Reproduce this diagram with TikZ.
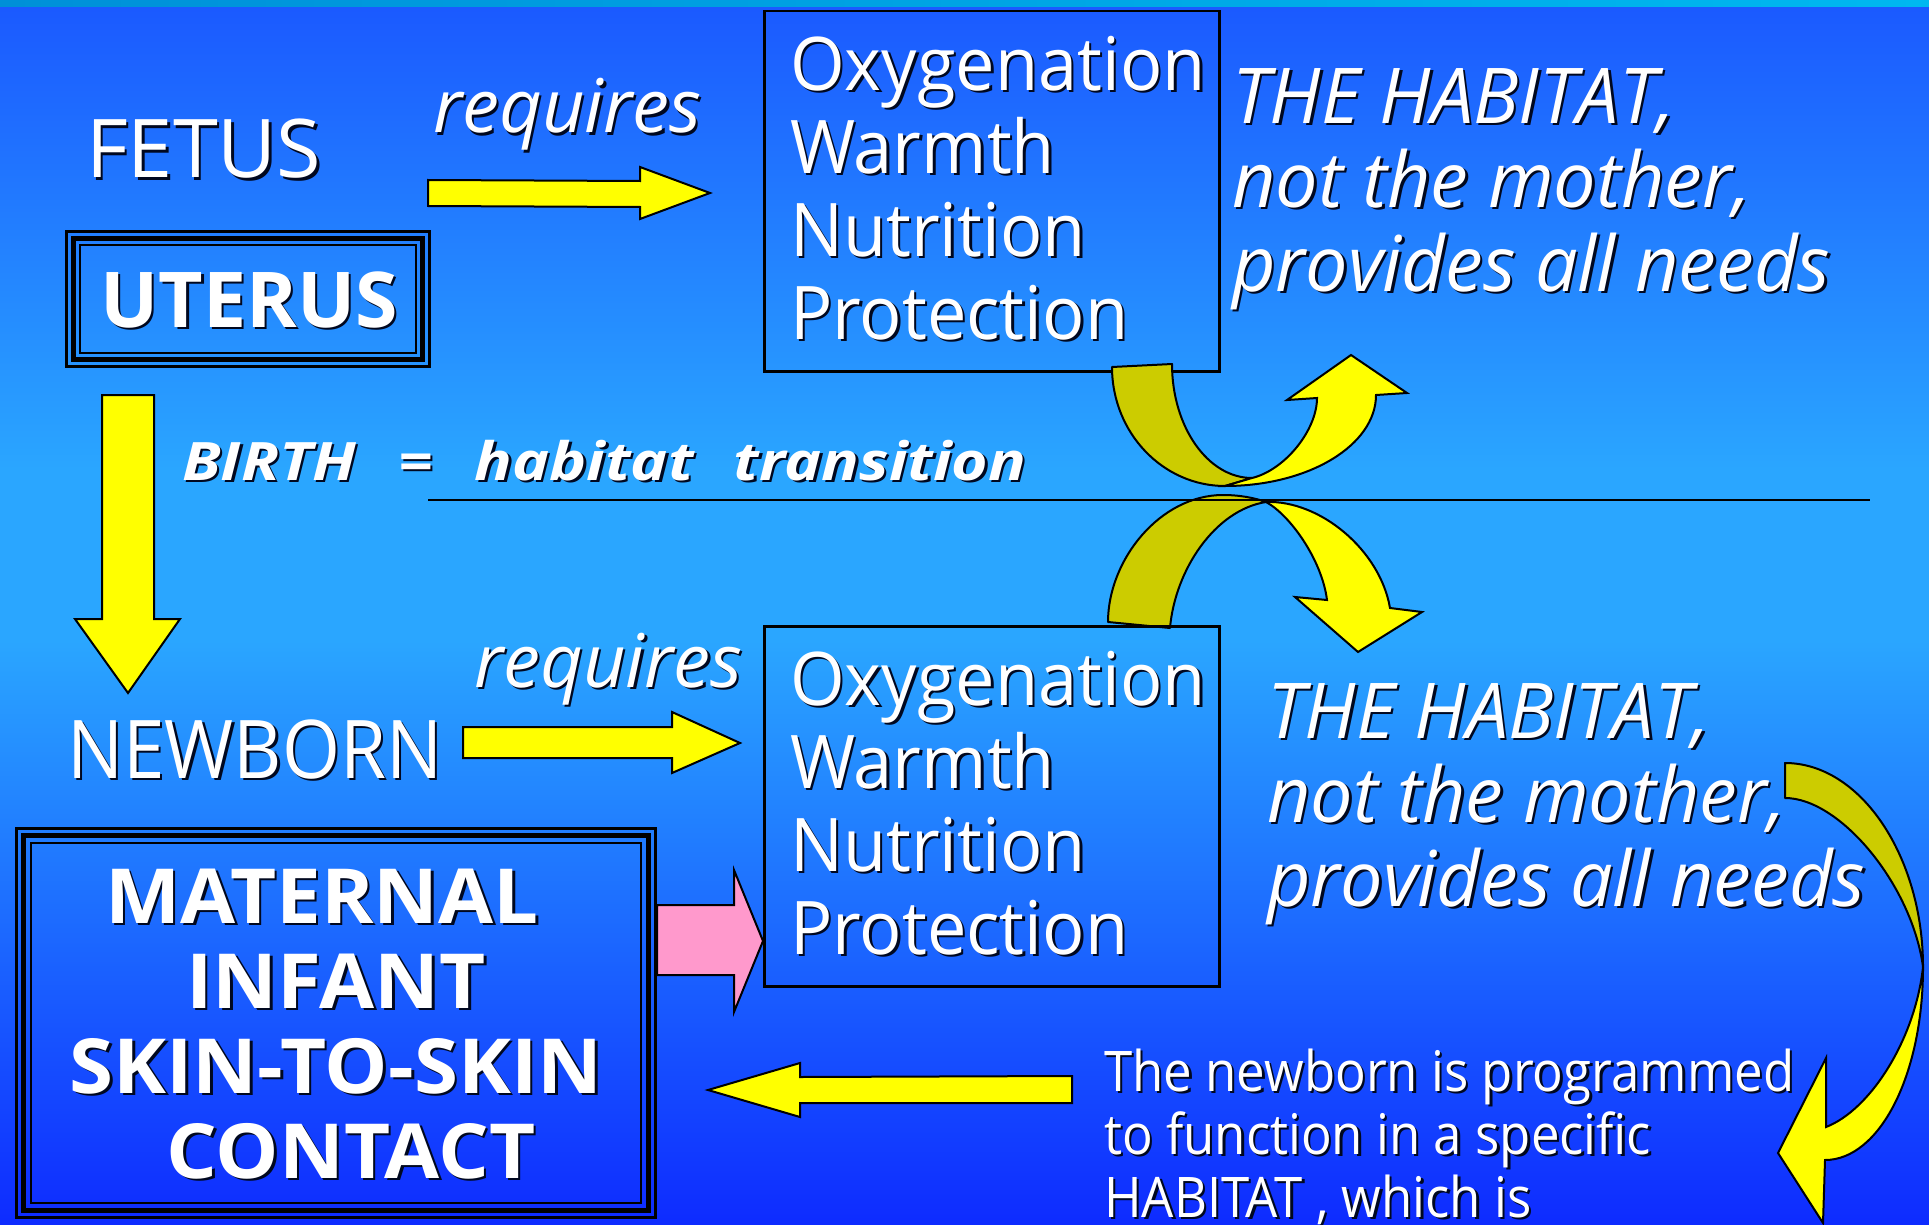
\documentclass[tikz,border=0pt]{standalone}
\usepackage{fontspec}
\setmainfont{Open Sans}
\newfontfamily\fNew[FakeStretch=0.92]{Open Sans}
\newfontfamily\fBox[FakeStretch=0.95]{Open Sans}
\newfontfamily\fBirth[FakeStretch=1.18]{Open Sans}
\newfontfamily\fProg[FakeStretch=0.91]{Open Sans}
\newfontfamily\fHab[FakeStretch=0.98]{Open Sans}
\newfontfamily\fSkin[FakeStretch=1.05]{Open Sans}
\definecolor{bgtop}{HTML}{1B5AFF}
\definecolor{bgmid}{HTML}{2AA6FF}
\definecolor{bgbot}{HTML}{0E2BFF}
\definecolor{stripl}{HTML}{0090D8}
\definecolor{stripr}{HTML}{00B8F0}
\definecolor{ayellow}{HTML}{FFFF00}
\definecolor{aolive}{HTML}{CCCC00}
\definecolor{apink}{HTML}{FF99CC}
\definecolor{shadowc}{HTML}{000820}
\newcommand\shd[1]{\leavevmode\rlap{\kern2.5pt\lower2.5pt\hbox{\color{shadowc}#1}}#1}
\tikzset{
  txt/.style={text=white, inner sep=0pt, align=left, anchor=base west},
  ctxt/.style={text=white, inner sep=0pt, align=center, anchor=base},
  yarrow/.style={fill=ayellow, draw=black, line width=2pt, line join=miter},
  parrow/.style={fill=apink, draw=black, line width=2pt, line join=miter},
  oband/.style={fill=aolive, draw=black, line width=2pt, line join=round},
  needbox/.style={draw=black, line width=2.5pt, inner sep=0pt, anchor=north west},
}
\begin{document}
\begin{tikzpicture}[x=1pt,y=-1pt]
\useasboundingbox (0,0) rectangle (1929,1225);
% background
\shade[left color=stripl, right color=stripr] (0,0) rectangle (1929,8);
\shade[top color=bgtop, bottom color=bgmid] (0,8) rectangle (1929,470);
\fill[bgmid] (0,469) rectangle (1929,641);
\shade[top color=bgmid, bottom color=bgbot] (0,640) rectangle (1929,1225);

% FETUS / requires
\node[txt, font=\fontsize{81}{90}\selectfont] (fetus) at (86,178) {\shd{FETUS}};
\node[txt, font=\fontsize{74}{83}\selectfont\itshape] (req1) at (433,133) {\shd{requires}};
\filldraw[yarrow] (428,180) -- (640,181) -- (640,167) -- (710,193) -- (640,219) -- (640,207) -- (428,206) -- cycle;

% UTERUS box
\coordinate (uA) at (65,230);
\coordinate (uB) at (431,368);
\draw[line width=2.5pt] ([shift={(1.5,1.5)}]uA) rectangle ([shift={(-1.5,-1.5)}]uB);
\draw[line width=5pt] ([shift={(8.5,8.5)}]uA) rectangle ([shift={(-8.5,-8.5)}]uB);
\draw[line width=2pt] ([shift={(15,15)}]uA) rectangle ([shift={(-15,-15)}]uB);
\node[ctxt, font=\fontsize{77}{86}\selectfont\bfseries] (uterus) at (249,327) {\shd{UTERUS}};

% top needs box
\node[needbox, minimum width=455pt, minimum height=360pt] (box1) at (763,10) {};
\node[txt, font=\fBox\fontsize{74}{83}\selectfont] (needs1) at (790,339)
  {\shd{Oxygenation}\\\shd{Warmth}\\\shd{Nutrition}\\\shd{Protection}};

% top habitat text
\node[txt, font=\fHab\fontsize{77}{84}\selectfont\itshape] (hab1) at (1232,291)
  {\shd{THE HABITAT,}\\\shd{not the mother,}\\\shd{provides all needs}};

% down arrow birth
\filldraw[yarrow] (102,395) -- (154,395) -- (154,619) -- (180,619) -- (128,693) -- (75,619) -- (102,619) -- cycle;
\node[txt, font=\fBirth\fontsize{53}{60}\selectfont\bfseries\itshape] (birth) at (182,480)
  {\shd{BIRTH}\hspace{42pt}\shd{=}\hspace{42pt}\shd{habitat}\hspace{40pt}\shd{transition}};

% curved arrow upper (box1 -> up right)
\filldraw[oband] (1112,367) .. controls (1112,433) and (1163,486) .. (1225,486) -- (1252,478)
  .. controls (1208,478) and (1172,427) .. (1172,364) -- cycle;
\filldraw[yarrow] (1225,486) .. controls (1309,486) and (1376,445) .. (1376,395) -- (1407,393) -- (1351,355)
  -- (1287,400) -- (1317,398) .. controls (1317,430) and (1285,470) .. (1252,478) -- cycle;
% curved arrow lower (box2 -> down right)
\filldraw[oband] (1108,622) .. controls (1108,560) and (1160,495) .. (1223,495)
  .. controls (1240,495) and (1255,498) .. (1266,502)
  .. controls (1215,510) and (1175,570) .. (1170,628) -- cycle;
\filldraw[yarrow] (1266,502) .. controls (1320,500) and (1380,550) .. (1390,608) -- (1422,612) -- (1358,652)
  -- (1295,597) -- (1327,600) .. controls (1322,560) and (1290,515) .. (1266,502) -- cycle;

% divider line
\coordinate (lineL) at (428,500);
\coordinate (lineR) at (1870,500);
\draw[line width=2.5pt] (lineL) -- (lineR);

% NEWBORN / requires
\node[txt, font=\fNew\fontsize{81}{90}\selectfont] (newborn) at (67,778) {\shd{NEWBORN}};
\node[txt, font=\fontsize{74}{83}\selectfont\itshape] (req2) at (474,687) {\shd{requires}};
\filldraw[yarrow] (463,727) -- (672,727) -- (672,712) -- (740,743) -- (672,773) -- (672,758) -- (463,758) -- cycle;

% lower needs box
\node[needbox, minimum width=455pt, minimum height=360pt] (box2) at (763,625) {};
\node[txt, font=\fBox\fontsize{74}{83}\selectfont] (needs2) at (790,954)
  {\shd{Oxygenation}\\\shd{Warmth}\\\shd{Nutrition}\\\shd{Protection}};

% lower habitat text
\node[txt, font=\fHab\fontsize{77}{84}\selectfont\itshape] (hab2) at (1267,906)
  {\shd{THE HABITAT,}\\\shd{not the mother,}\\\shd{provides all needs}};

% big right curved arrow
\filldraw[oband] (1785,763) .. controls (1861,763) and (1923,857) .. (1923,967)
  .. controls (1912,885) and (1840,798) .. (1785,798) -- cycle;
\filldraw[yarrow] (1923,967) .. controls (1923,1076) and (1879,1160) .. (1825,1160) -- (1823,1223)
  -- (1778,1153) -- (1826,1058) -- (1826,1127) .. controls (1870,1110) and (1915,1040) .. (1923,967) -- cycle;

% MATERNAL box
\coordinate (mA) at (15,827);
\coordinate (mB) at (657,1219);
\draw[line width=3pt] ([shift={(1.5,1.5)}]mA) rectangle ([shift={(-1.5,-1.5)}]mB);
\draw[line width=5pt] ([shift={(8.5,8.5)}]mA) rectangle ([shift={(-8.5,-8.5)}]mB);
\draw[line width=2pt] ([shift={(16,16)}]mA) rectangle ([shift={(-16,-16)}]mB);
\node[ctxt, font=\fSkin\fontsize{76}{85}\selectfont\bfseries] (skin) at (336,1178)
  {\shd{MATERNAL}\hspace*{28pt}\\\shd{INFANT}\\\shd{SKIN-TO-SKIN}\\\hspace*{30pt}\shd{CONTACT}};

% pink arrow
\filldraw[parrow] (657,905) -- (734,905) -- (734,870) -- (763,941) -- (734,1012) -- (734,975) -- (657,975) -- cycle;

% left arrow
\filldraw[yarrow] (1072,1076) -- (800,1077) -- (800,1063) -- (708,1090) -- (800,1117) -- (800,1103) -- (1072,1103) -- cycle;

% bottom text
\node[txt, font=\fProg\fontsize{56}{63}\selectfont] (prog) at (1104,1217)
  {\shd{The newborn is programmed}\\\shd{to function in a specific}\\\shd{HABITAT , which is}};
\end{tikzpicture}
\end{document}
